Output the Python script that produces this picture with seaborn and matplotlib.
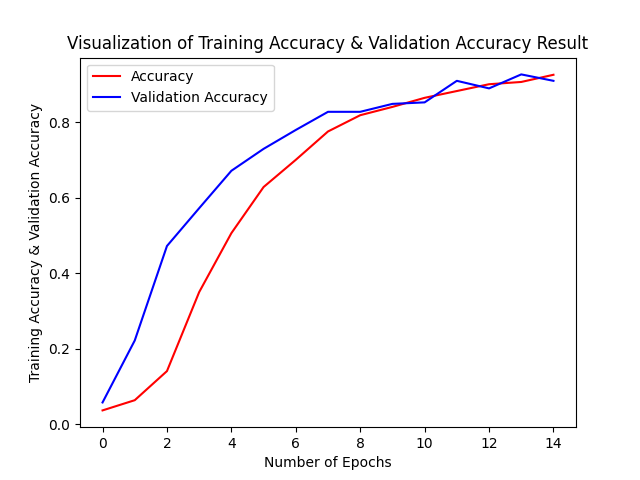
import numpy as np
import pandas as pd
import seaborn as sns
import matplotlib
matplotlib.use('Agg')
import matplotlib.pyplot as plt

epochs = list(range(15))
accuracy = [0.037, 0.064, 0.141, 0.350, 0.506, 0.628, 0.700, 0.775, 0.818, 0.840, 0.864, 0.882, 0.900, 0.906, 0.925]
val_accuracy = [0.058, 0.222, 0.472, 0.572, 0.671, 0.729, 0.779, 0.827, 0.827, 0.848, 0.852, 0.909, 0.889, 0.926, 0.909]

df = pd.DataFrame({'epoch': epochs, 'acc': accuracy, 'val_acc': val_accuracy})

fig, ax = plt.subplots(figsize=(6.4, 4.8), dpi=100)
sns.lineplot(data=df, x='epoch', y='acc', color='r', label='Accuracy', ax=ax)
sns.lineplot(data=df, x='epoch', y='val_acc', color='b', label='Validation Accuracy', ax=ax)

ax.set_title('Visualization of Training Accuracy & Validation Accuracy Result')
ax.set_xlabel('Number of Epochs')
ax.set_ylabel('Training Accuracy & Validation Accuracy')
ax.legend(loc='upper left')

plt.savefig('out.png')
